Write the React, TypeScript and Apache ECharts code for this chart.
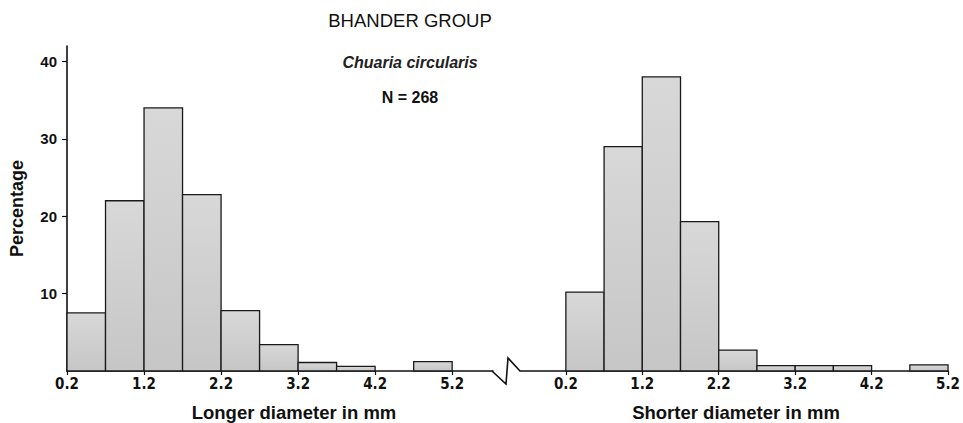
import React, { useEffect, useRef } from "react";
import * as echarts from "echarts";

const binStarts = [0.2, 0.7, 1.2, 1.7, 2.2, 2.7, 3.2, 3.7, 4.2, 4.7];
const binEnds = [0.7, 1.2, 1.7, 2.2, 2.7, 3.2, 3.7, 4.2, 4.7, 5.2];
const longerPct = [7.5, 22, 34, 22.8, 7.8, 3.4, 1.1, 0.6, 0, 1.2];
const shorterPct = [10.2, 29, 38, 19.3, 2.7, 0.7, 0.7, 0.7, 0, 0.8];
const xTickValues = [0.2, 1.2, 2.2, 3.2, 4.2, 5.2];
const yTickValues = [10, 20, 30, 40];

const SANS = "'Liberation Sans', Arial, Helvetica, sans-serif";
const NARROW = "'Liberation Sans Narrow', 'DejaVu Sans Condensed', 'Liberation Sans', sans-serif";

function histData(values: number[]) {
  return values.map((v, i) => [binStarts[i], binEnds[i], v]);
}

const renderBar = (params: any, api: any) => {
  const v = api.value(2);
  if (!v) return null;
  const p0 = api.coord([api.value(0), 0]);
  const p1 = api.coord([api.value(1), v]);
  return {
    type: "rect",
    shape: { x: p0[0], y: p1[1], width: p1[0] - p0[0], height: p0[1] - p1[1] },
    style: {
      fill: new echarts.graphic.LinearGradient(0, 0, 0, 1, [
        { offset: 0, color: "#d8d8d8" },
        { offset: 1, color: "#c6c6c6" },
      ]),
      stroke: "#1a1a1a",
      lineWidth: 1.3,
    },
  };
};

const xAxisCommon = (min: number, max: number) => ({
  type: "value",
  min,
  max,
  axisLine: { show: true, lineStyle: { color: "#111", width: 1.6 } },
  axisTick: {
    show: true,
    customValues: xTickValues,
    length: 4,
    lineStyle: { color: "#111", width: 1.2 },
  },
  axisLabel: {
    customValues: xTickValues,
    margin: 5,
    color: "#111",
    fontFamily: NARROW,
    fontWeight: "bold",
    fontSize: 15,
    formatter: (v: number) => v.toFixed(1),
  },
  splitLine: { show: false },
});

export default function App() {
  const ref = useRef<HTMLDivElement>(null);
  useEffect(() => {
    if (!ref.current) return;
    const chart = echarts.init(ref.current, null, { renderer: "svg" });
    chart.setOption({
      animation: false,
      backgroundColor: "#ffffff",
      grid: [
        { left: 67, right: 470, top: 46, bottom: 52 },
        { left: 520, right: 13, top: 46, bottom: 52 },
      ],
      xAxis: [
        { ...xAxisCommon(0.2, 5.73), gridIndex: 0 },
        { ...xAxisCommon(-0.4, 5.2), gridIndex: 1 },
      ],
      yAxis: [
        {
          type: "value",
          gridIndex: 0,
          min: 0,
          max: 42,
          interval: 10,
          name: "Percentage",
          nameLocation: "middle",
          nameGap: 41,
          nameRotate: 90,
          nameTextStyle: {
            fontFamily: SANS,
            fontWeight: "bold",
            fontSize: 18,
            color: "#111",
          },
          axisLine: { show: true, lineStyle: { color: "#111", width: 1.6 } },
          axisTick: {
            show: true,
            customValues: yTickValues,
            length: 5,
            lineStyle: { color: "#111", width: 1.2 },
          },
          axisLabel: {
            customValues: yTickValues,
            margin: 10,
            color: "#111",
            fontFamily: SANS,
            fontWeight: "bold",
            fontSize: 15,
          },
          splitLine: { show: false },
        },
        {
          type: "value",
          gridIndex: 1,
          min: 0,
          max: 42,
          interval: 10,
          show: false,
        },
      ],
      series: [
        {
          type: "custom",
          xAxisIndex: 0,
          yAxisIndex: 0,
          renderItem: renderBar,
          encode: { x: [0, 1], y: 2 },
          data: histData(longerPct),
        },
        {
          type: "custom",
          xAxisIndex: 1,
          yAxisIndex: 1,
          renderItem: renderBar,
          encode: { x: [0, 1], y: 2 },
          data: histData(shorterPct),
        },
      ],
      graphic: [
        {
          type: "polyline",
          shape: { points: [[492, 371], [506, 384], [508, 358], [520, 371]] },
          style: { stroke: "#111", lineWidth: 1.6, fill: "none" },
        },
        {
          type: "text",
          x: 410,
          y: 20,
          style: {
            text: "BHANDER GROUP",
            fontFamily: SANS,
            fontSize: 18.5,
            fill: "#111",
            align: "center",
            verticalAlign: "middle",
          },
        },
        {
          type: "text",
          x: 410,
          y: 62,
          style: {
            text: "Chuaria circularis",
            fontFamily: SANS,
            fontSize: 16,
            fontWeight: "bold",
            fontStyle: "italic",
            fill: "#222",
            align: "center",
            verticalAlign: "middle",
          },
        },
        {
          type: "text",
          x: 410,
          y: 97,
          style: {
            text: "N = 268",
            fontFamily: SANS,
            fontSize: 16,
            fontWeight: "bold",
            fill: "#111",
            align: "center",
            verticalAlign: "middle",
          },
        },
        {
          type: "text",
          x: 294,
          y: 412,
          style: {
            text: "Longer diameter in mm",
            fontFamily: SANS,
            fontSize: 18.5,
            fontWeight: "bold",
            fill: "#111",
            align: "center",
            verticalAlign: "middle",
          },
        },
        {
          type: "text",
          x: 736,
          y: 412,
          style: {
            text: "Shorter diameter in mm",
            fontFamily: SANS,
            fontSize: 18.5,
            fontWeight: "bold",
            fill: "#111",
            align: "center",
            verticalAlign: "middle",
          },
        },
      ],
    });
    return () => chart.dispose();
  }, []);
  return (
    <div
      ref={ref}
      style={{ position: "fixed", left: 0, top: 0, width: 963, height: 423 }}
    />
  );
}
